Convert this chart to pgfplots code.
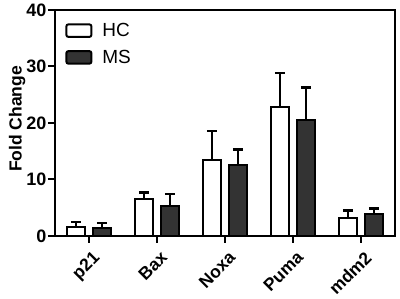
\documentclass[border=0pt]{standalone}
\usepackage{fontspec}
\setmainfont{Liberation Sans}
\usepackage{pgfplots}
\pgfplotsset{compat=1.18}
\usepackage{pgfplotstable}
\definecolor{msgray}{HTML}{333333}
\pgfplotstableread{
x y e
0 1.65 0.85
1 6.5 1.2
2 13.5 5.1
3 22.9 6.0
4 3.25 1.25
}\hcdata
\pgfplotstableread{
x y e
0 1.47 0.88
1 5.3 2.1
2 12.6 2.7
3 20.6 5.7
4 3.9 0.95
}\msdata
\begin{document}
\begin{tikzpicture}
\begin{axis}[
  at={(0pt,0pt)}, anchor=south west,
  scale only axis, width=340pt, height=226pt,
  xmin=-0.5, xmax=4.5, ymin=0, ymax=40,
  axis line style={line width=2pt},
  xtick={0,1,2,3,4},
  xticklabels={p21,Bax,Noxa,Puma,mdm2},
  ytick={0,10,20,30,40},
  xtick pos=left, ytick pos=left,
  tick align=outside,
  major tick length=7pt,
  major tick style={line width=2pt, black},
  /pgf/number format/assume math mode=true,
  yticklabel style={font=\fontsize{18}{20}\selectfont\bfseries, inner sep=1.5pt},
  xticklabel style={font=\fontsize{17.5}{19}\selectfont\bfseries, rotate=45, anchor=north east, inner sep=1pt, xshift=-2pt, yshift=-6pt},
  ylabel={Fold Change},
  ylabel style={font=\fontsize{17.5}{20}\selectfont\bfseries, yshift=-4pt, xshift=4pt},
  ybar, bar width=18pt,
  legend style={draw=none, fill=none, at={(0.03,0.95)}, anchor=north west,
    font=\fontsize{19}{21}\selectfont, row sep=8pt, inner sep=0pt},
  legend cell align=left,
  legend image code/.code={\path[draw=none, fill=none] (0pt,0pt) -- (34pt,0pt);\draw[#1, rounded corners=2pt, line width=2pt] (0pt,-6pt) rectangle (25pt,6.5pt);},
  error bars/error bar style={line width=2.6pt, black},
  error bars/error mark options={rotate=90, mark size=5pt, line width=2.2pt, black},
]
\addplot[draw=black, fill=white, line width=2.2pt, bar shift=-13pt,
  error bars/.cd, y dir=plus, y explicit] table[x=x, y=y, y error=e] {\hcdata};
\addlegendentry{HC}
\addplot[draw=black, fill=msgray, line width=2.2pt, bar shift=13pt,
  error bars/.cd, y dir=plus, y explicit] table[x=x, y=y, y error=e] {\msdata};
\addlegendentry{MS}
\end{axis}
\pgfresetboundingbox
\path (-55pt,-63pt) rectangle (345pt,236pt);
\end{tikzpicture}
\end{document}
